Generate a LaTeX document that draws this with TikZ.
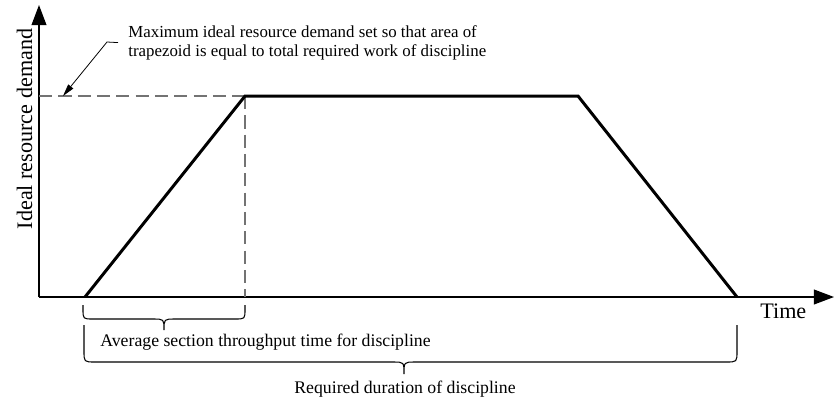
\documentclass[tikz,border=0pt]{standalone}
\usepackage{fontspec}
\setmainfont{Liberation Serif}
\usetikzlibrary{arrows.meta}

\begin{document}
\begin{tikzpicture}[
    x=0.02cm, y=-0.02cm,
    >={Triangle[length=11.5pt, width=8.5pt]},
    axisline/.style={line width=0.7pt, ->},
    demand/.style={line width=1.7pt, line join=miter},
    guide/.style={draw=black!55, line width=0.6pt, dash pattern=on 7.5pt off 3.5pt},
    bracket/.style={line width=0.6pt},
    pointer/.style={line width=0.45pt, -{Triangle[length=7pt, width=3.6pt]}},
    axisname/.style={font=\fontsize{12.6}{15}\selectfont, inner sep=0pt},
    remark/.style={font=\fontsize{9.6}{10.8}\selectfont, inner sep=0pt, align=left},
    span/.style={font=\fontsize{10.1}{12}\selectfont, inner sep=0pt}
]
\useasboundingbox (0,0) rectangle (834,397);

% Coordinates
\coordinate (origin) at (39,297);
\coordinate (ytop) at (39,5);
\coordinate (xend) at (834,297);
\coordinate (start) at (85,297);
\coordinate (topleft) at (245,96);
\coordinate (topright) at (578,96);
\coordinate (finish) at (737,297);
\coordinate (level) at (39,96);
\coordinate (foot) at (245,297);
\coordinate (mark) at (63,96);
\coordinate (bend) at (107,42);

% Axes
\draw[axisline] (origin) -- (ytop);
\draw[axisline] (origin) -- (xend);
\node[axisname, rotate=90, anchor=base] (ylabel) at (32,129) {Ideal resource demand};
\node[axisname, anchor=base west] (xlabel) at (760,318) {Time};

% Guide lines
\draw[guide] (level) -- (topleft);
\draw[guide] (topleft) -- (foot);

% Trapezoid
\draw[demand] (start) -- (topleft) -- (topright) -- (finish);

% Annotation
\node[remark, anchor=north west] (note) at (128,25) {Maximum ideal resource demand set so that area of\\trapezoid is equal to total required work of discipline};
\draw[pointer] (note.west) ++(-10,0) -- (bend) -- (mark);

% Braces
\draw[bracket] (83,305) -- (83,309) .. controls (83,319) .. (93,319) -- (153,319)
    .. controls (164,319) .. (164,330) .. controls (164,319) .. (175,319)
    -- (235,319) .. controls (245,319) .. (245,309) -- (245,305);
\node[span, anchor=base west] (avglabel) at (100,346) {Average section throughput time for discipline};

\draw[bracket] (84,325) -- (84,351) .. controls (84,362) .. (95,362) -- (393,362)
    .. controls (404,362) .. (404,374) .. controls (404,362) .. (415,362)
    -- (726,362) .. controls (737,362) .. (737,351) -- (737,325);
\node[span, anchor=base] (durlabel) at (405,393) {Required duration of discipline};

\end{tikzpicture}
\end{document}
